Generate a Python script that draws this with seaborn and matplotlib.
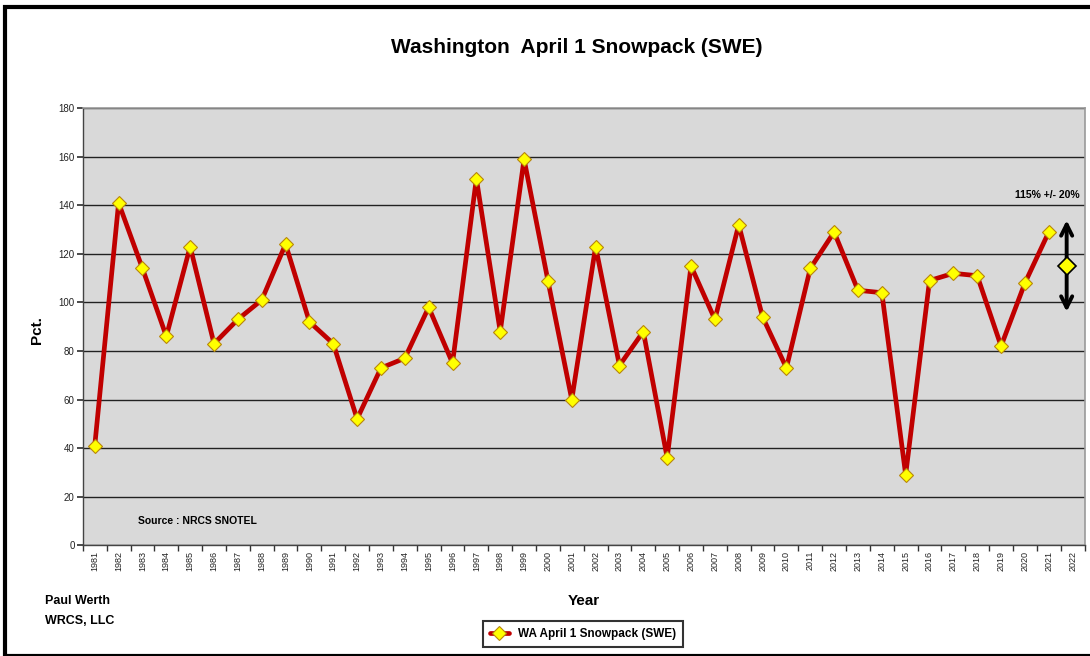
import numpy as np
import pandas as pd
import matplotlib
matplotlib.use("Agg")
import matplotlib.pyplot as plt
from matplotlib.patches import Rectangle
import seaborn as sns

years = list(range(1981, 2023))
snowpack_years = list(range(1981, 2022))
snowpack_pct = [41, 141, 114, 86, 123, 83, 93, 101, 124, 92,
                83, 52, 73, 77, 98, 75, 151, 88, 159, 109,
                60, 123, 74, 88, 36, 115, 93, 132, 94, 73,
                114, 129, 105, 104, 29, 109, 112, 111, 82, 108,
                129]
forecast_year = 2022
forecast_center = 115
forecast_range = 20
y_ticks = list(range(0, 181, 20))

sns.set_theme(style="white")
plt.rcParams['font.family'] = ['Liberation Sans', 'DejaVu Sans']
plt.rcParams['text.color'] = 'black'
plt.rcParams['axes.labelcolor'] = 'black'
plt.rcParams['xtick.color'] = '#222222'
plt.rcParams['ytick.color'] = '#222222'

df = pd.DataFrame({"pos": [years.index(y) for y in snowpack_years],
                   "pct": snowpack_pct})

fig = plt.figure(figsize=(10.9, 6.56), dpi=100)
ax = fig.add_axes([0.076, 0.169, 0.919, 0.666])
ax.set_facecolor("#D9D9D9")

sns.lineplot(data=df, x="pos", y="pct", ax=ax, color="#C00000", linewidth=3.4,
             marker="D", markersize=7, markerfacecolor="#FFFF00",
             markeredgecolor="#B8860B", markeredgewidth=0.8,
             label="WA April 1 Snowpack (SWE)", legend=False, zorder=3)

ax.set_xlim(-0.5, len(years) - 0.5)
ax.set_ylim(0, 180)
ax.set_yticks(y_ticks)
ax.set_yticklabels([str(v) for v in y_ticks], fontsize=7)
ax.yaxis.grid(True, color="#222222", linewidth=1)
ax.set_axisbelow(True)
ax.set_xticks(range(len(years)))
ax.set_xticklabels([str(y) for y in years], rotation=90, fontsize=6.5)
ax.set_xticks(np.arange(-0.5, len(years), 1), minor=True)
ax.tick_params(axis="x", which="major", length=0, pad=4)
ax.tick_params(axis="x", which="minor", length=4, color="#333333", direction="out", bottom=True)
ax.tick_params(axis="y", length=4, color="#333333", direction="out", left=True, pad=2)
for s in ["top", "right"]:
    ax.spines[s].set_color("#999999")
    ax.spines[s].set_linewidth(1.2)
for s in ["left", "bottom"]:
    ax.spines[s].set_color("#444444")
    ax.spines[s].set_linewidth(1)

ax.set_xlabel("")
ax.set_ylabel("")

# forecast arrow
fx = years.index(forecast_year) - 0.25
ax.annotate("", xy=(fx, forecast_center + forecast_range),
            xytext=(fx, forecast_center - forecast_range),
            arrowprops=dict(arrowstyle="<->", color="black", lw=2.8, mutation_scale=20))
ax.plot([fx], [forecast_center], marker="D", markersize=9, markerfacecolor="#FFFF00",
        markeredgecolor="black", markeredgewidth=1.2, zorder=5)
ax.text(len(years) - 0.7, 142, f"{forecast_center}% +/- {forecast_range}%", ha="right",
        va="bottom", fontsize=7.5, fontweight="bold")
ax.text(1.8, 8, "Source : NRCS SNOTEL", fontsize=7.5, fontweight="bold", va="bottom")

fig.text(0.529, 0.927, "Washington  April 1 Snowpack (SWE)", ha="center", va="center",
         fontsize=15, fontweight="bold")
fig.text(0.034, 0.497, "Pct.", ha="center", va="center", fontsize=11, fontweight="bold",
         rotation=90)
fig.text(0.536, 0.084, "Year", ha="center", va="center", fontsize=11, fontweight="bold")
fig.text(0.041, 0.084, "Paul Werth", ha="left", va="center", fontsize=9, fontweight="bold")
fig.text(0.041, 0.053, "WRCS, LLC", ha="left", va="center", fontsize=9, fontweight="bold")

leg = fig.legend(*ax.get_legend_handles_labels(), loc="center", bbox_to_anchor=(0.535, 0.034),
                 frameon=True, fontsize=8.5, handlelength=1.6, borderpad=0.6,
                 fancybox=False, edgecolor="black")
leg.get_frame().set_linewidth(1.5)
for t in leg.get_texts():
    t.set_fontweight("bold")

fig.patches.append(Rectangle((0.005, 0.0), 1.2, 0.99, transform=fig.transFigure,
                             fill=False, edgecolor="black", linewidth=3, zorder=10))

fig.savefig("out.png", dpi=100)
